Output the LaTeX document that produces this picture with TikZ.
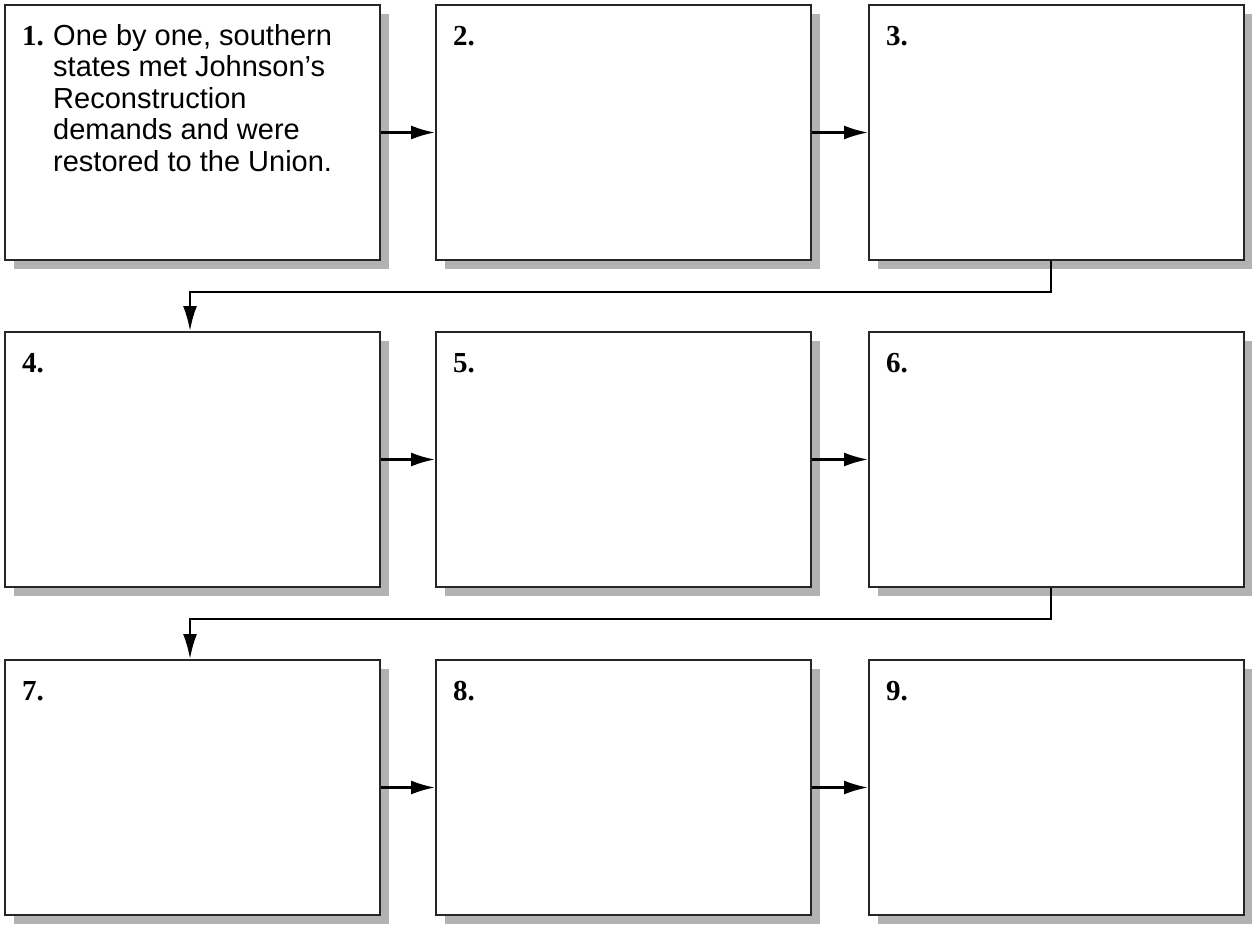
\documentclass[tikz,border=0pt]{standalone}
\usepackage{fontspec}
\setmainfont{Liberation Sans}
\newfontfamily\numfont{Liberation Serif}
\usetikzlibrary{arrows.meta,shadows,calc}
\tikzset{
  stepbox/.style={rectangle, draw=black!85, line width=2pt, fill=white,
    minimum width=375pt, minimum height=255pt, inner sep=0pt,
    drop shadow={shadow xshift=9pt, shadow yshift=-9pt, fill=black!30, opacity=1}},
  numlabel/.style={anchor=base west, inner sep=0pt, font=\numfont\bfseries\fontsize{29}{31.5}\selectfont},
  bodytext/.style={anchor=base west, inner sep=0pt, font=\fontsize{29}{31.5}\selectfont},
  arr/.style={line width=2.4pt, draw=black, -{Latex[length=24pt,width=14pt]}},
  conn/.style={line width=2.4pt, draw=black, line join=miter, -{Latex[length=25pt,width=14pt]}}
}
\begin{document}
\begin{tikzpicture}[x=1pt,y=1pt]
\useasboundingbox (0,0) rectangle (1252,-925);
% boxes
\node[stepbox] (b1) at (192.5,-132.5) {};
\node[stepbox] (b2) at (623.5,-132.5) {};
\node[stepbox] (b3) at (1056.5,-132.5) {};
\node[stepbox] (b4) at (192.5,-459.5) {};
\node[stepbox] (b5) at (623.5,-459.5) {};
\node[stepbox] (b6) at (1056.5,-459.5) {};
\node[stepbox] (b7) at (192.5,-787.5) {};
\node[stepbox] (b8) at (623.5,-787.5) {};
\node[stepbox] (b9) at (1056.5,-787.5) {};
% labels
\foreach \i in {1,...,9}{
  \node[numlabel] (n\i) at ($(b\i.north west)+(18,-41.5)$) {\i.};
}
\node[bodytext] (t1) at ($(b1.north west)+(49,-41.5)$) {\parbox[t]{320pt}{\raggedright
One by one, southern\\
states met Johnson’s\\
Reconstruction\\
demands and were\\
restored to the Union.}};
% horizontal arrows
\draw[arr] (b1) -- (b2);
\draw[arr] (b2) -- (b3);
\draw[arr] (b4) -- (b5);
\draw[arr] (b5) -- (b6);
\draw[arr] (b7) -- (b8);
\draw[arr] (b8) -- (b9);
% row connectors
\coordinate (k1) at ($(b3.south west)+(183,-31)$);
\coordinate (k2) at ($(b4.north west)+(186,41)$);
\draw[conn] (b3.south -| k1) -- (k1) -- (k1 -| k2) -- (b4.north -| k2);
\coordinate (k3) at ($(b6.south west)+(183,-31)$);
\coordinate (k4) at ($(b7.north west)+(186,41)$);
\draw[conn] (b6.south -| k3) -- (k3) -- (k3 -| k4) -- (b7.north -| k4);
\end{tikzpicture}
\end{document}
